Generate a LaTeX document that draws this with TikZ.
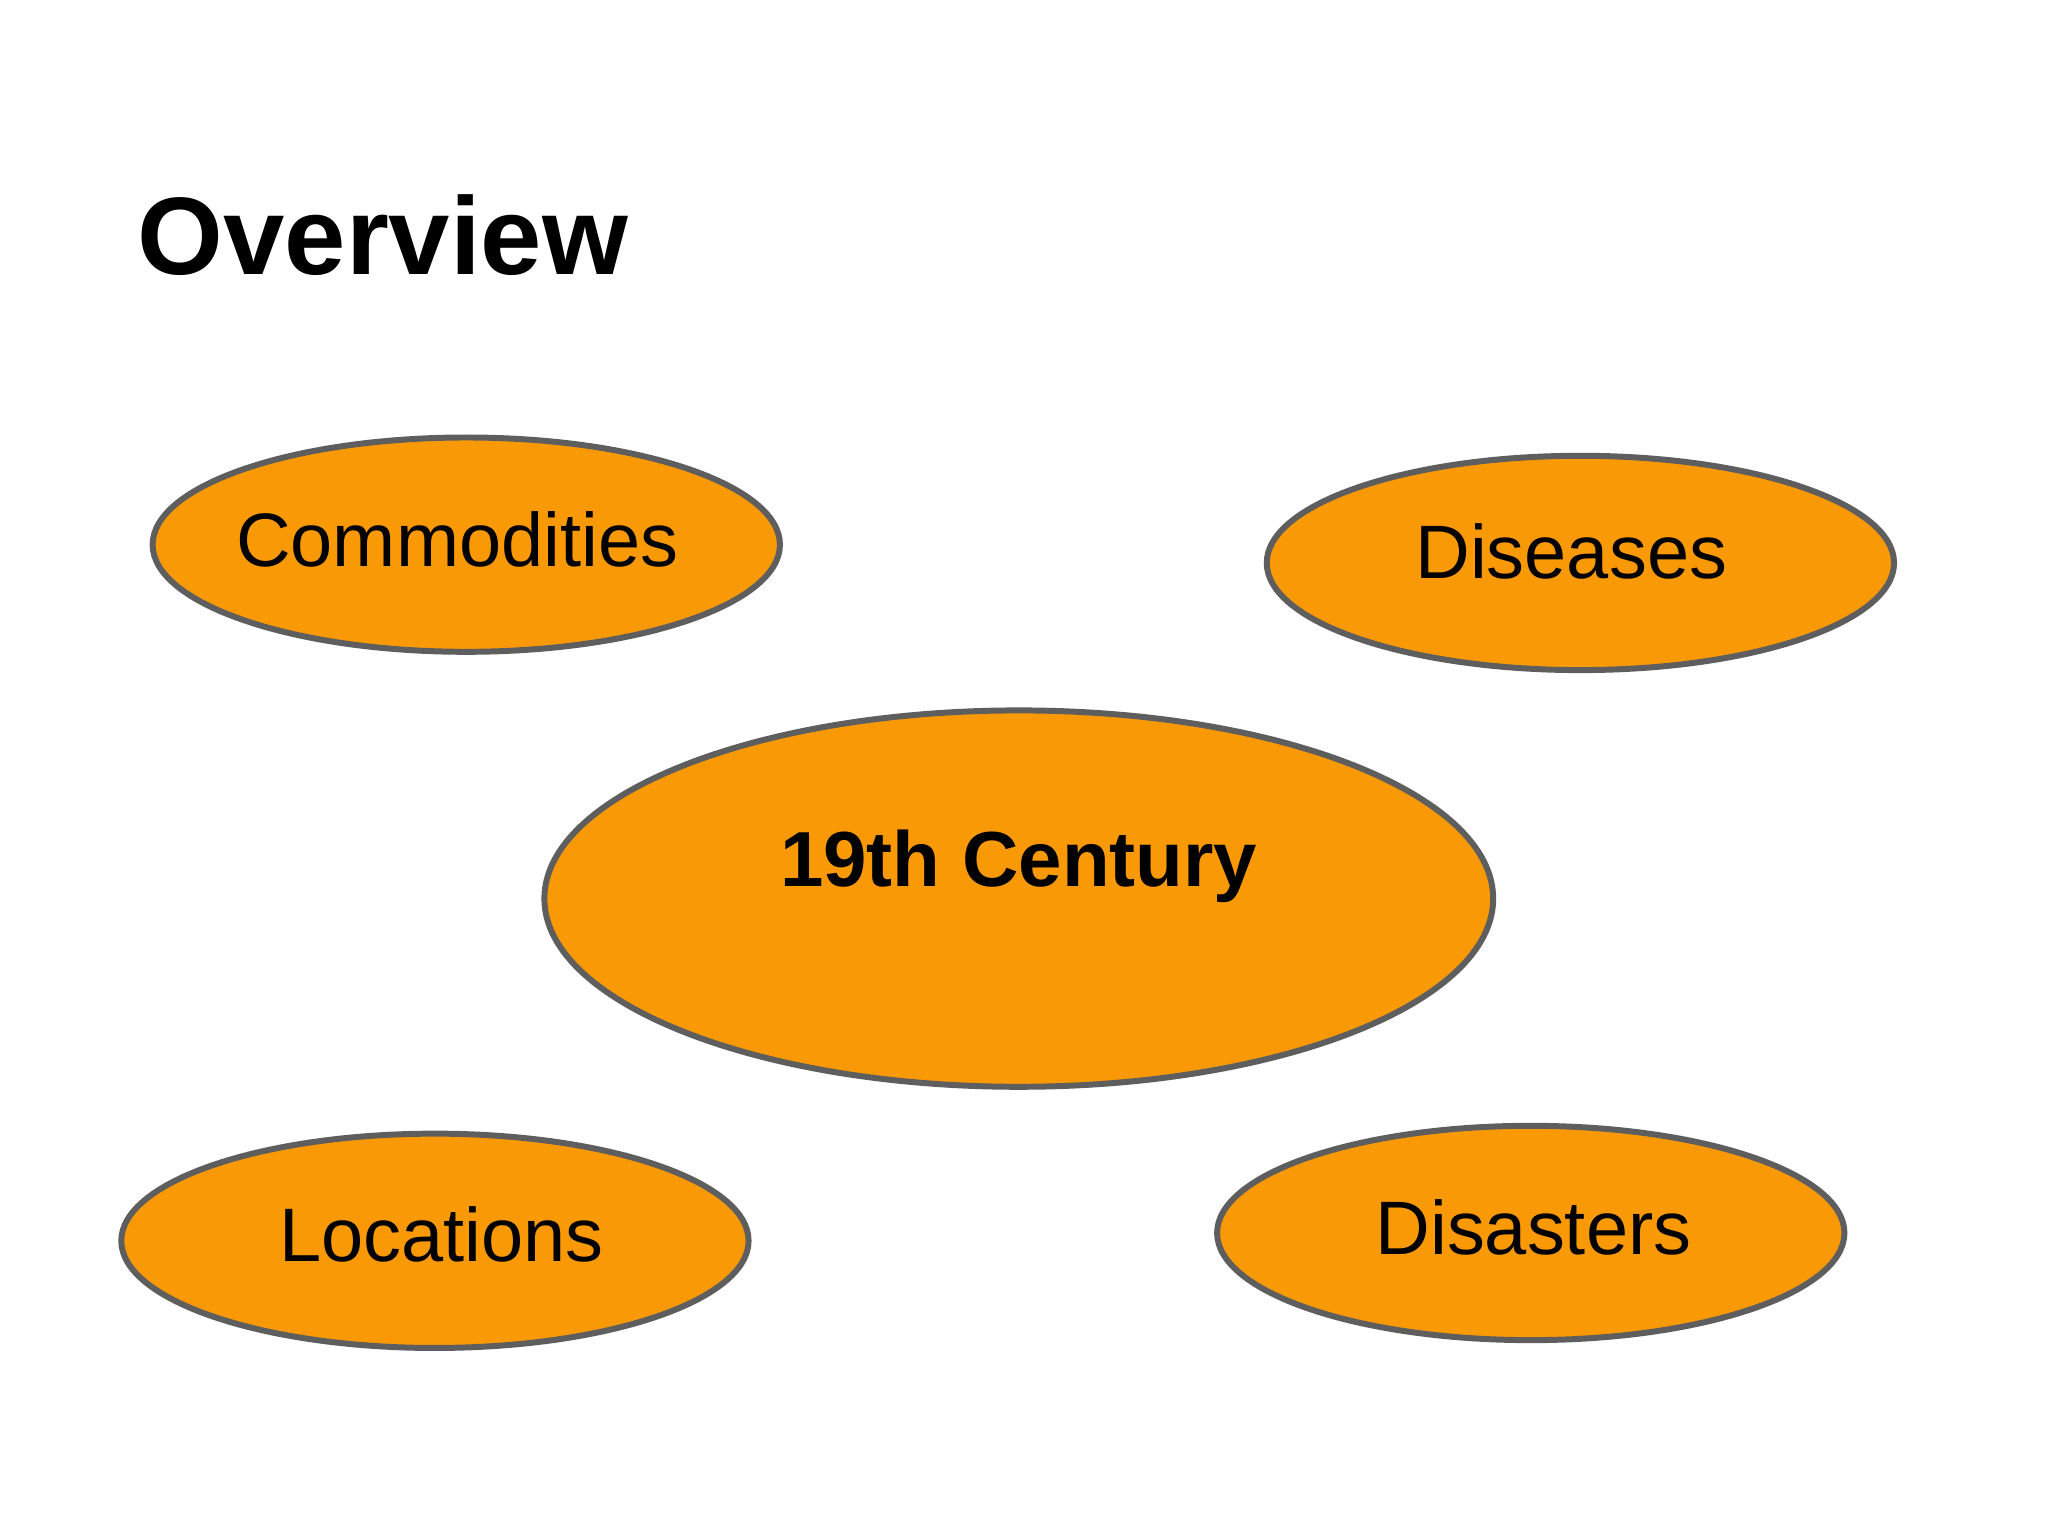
\documentclass[tikz,border=0pt]{standalone}
\usepackage{fontspec}
\setmainfont{Liberation Sans}
\usetikzlibrary{shapes.geometric}
\definecolor{orng}{HTML}{FA9906}
\definecolor{edge}{HTML}{5E5E5E}
\tikzset{
  bubble/.style={ellipse, draw=edge, line width=1.3pt, fill=orng, inner sep=0pt},
  lbl/.style={font=\fontsize{16.5pt}{18pt}\selectfont, text=black},
}
\begin{document}
\begin{tikzpicture}[x=0.01cm,y=-0.01cm]
\useasboundingbox[fill=white] (0,0) rectangle (1568,1176);
\node[anchor=base west, font=\bfseries\fontsize{24pt}{28pt}\selectfont] (title) at (93,210) {Overview};
\node[bubble, minimum width=480\pgflinewidth*0+4.8cm, minimum height=1.64cm] (c) at (357,417) {};
\node[bubble, minimum width=4.8cm, minimum height=1.64cm] (d) at (1210,431) {};
\node[bubble, minimum width=7.26cm, minimum height=2.88cm] (m) at (780,688) {};
\node[bubble, minimum width=4.8cm, minimum height=1.64cm] (l) at (333,950) {};
\node[bubble, minimum width=4.8cm, minimum height=1.64cm] (s) at (1172,944) {};
\node[lbl] (ct) at (350,413) {Commodities};
\node[lbl] (dt) at (1203,422) {Diseases};
\node[lbl, font=\bfseries\fontsize{17pt}{19pt}\selectfont] (mt) at (780,663) {19th Century};
\node[lbl] (lt) at (338,945) {Locations};
\node[lbl] (st) at (1174,940) {Disasters};
\end{tikzpicture}
\end{document}
